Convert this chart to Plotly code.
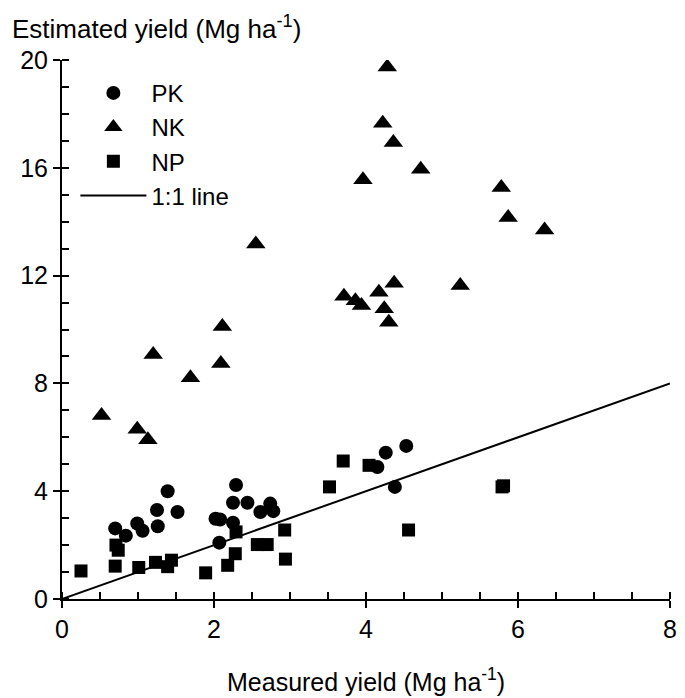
import plotly.graph_objects as go

# PK (circles)
pk_x = [0.70, 0.84, 0.99, 1.06, 1.25, 1.26, 1.39, 1.52, 2.02, 2.08, 2.07, 2.25, 2.25, 2.29, 2.44, 2.61, 2.74, 2.78, 4.15, 4.26, 4.38, 4.53]
pk_y = [2.62, 2.35, 2.80, 2.53, 3.30, 2.70, 4.00, 3.23, 2.98, 2.95, 2.09, 2.83, 3.57, 4.23, 3.57, 3.23, 3.54, 3.26, 4.90, 5.43, 4.16, 5.68]

# NK (triangles)
nk_x = [0.52, 0.99, 1.13, 1.20, 1.69, 2.09, 2.11, 2.55, 3.71, 3.86, 3.94, 3.96, 4.17, 4.22, 4.24, 4.28, 4.30, 4.36, 4.37, 4.72, 5.24, 5.78, 5.87, 6.35]
nk_y = [6.81, 6.30, 5.91, 9.07, 8.21, 8.74, 10.11, 13.17, 11.23, 11.07, 10.89, 15.56, 11.38, 17.65, 10.77, 19.74, 10.27, 16.94, 11.72, 15.95, 11.63, 15.27, 14.16, 13.69]

# NP (squares)
np_x = [0.25, 0.70, 0.71, 0.74, 1.01, 1.23, 1.39, 1.44, 1.89, 2.18, 2.28, 2.29, 2.57, 2.70, 2.93, 2.94, 3.52, 3.70, 4.04, 4.56, 5.79, 5.81]
np_y = [1.04, 1.22, 2.00, 1.81, 1.17, 1.36, 1.20, 1.44, 0.97, 1.25, 1.68, 2.49, 2.02, 2.02, 2.56, 1.48, 4.16, 5.12, 4.96, 2.56, 4.16, 4.20]

# 1:1 line
line_x = [0, 8]
line_y = [0, 8]

FONT = "Liberation Sans, Arial, sans-serif"
FS = 25

fig = go.Figure()
fig.add_trace(go.Scatter(x=pk_x, y=pk_y, mode="markers", name="PK",
                         marker=dict(symbol="circle", size=14, color="black")))
fig.add_trace(go.Scatter(x=nk_x, y=nk_y, mode="markers", name="NK",
                         marker=dict(symbol="triangle-up", size=17, color="black")))
fig.add_trace(go.Scatter(x=np_x, y=np_y, mode="markers", name="NP",
                         marker=dict(symbol="square", size=13, color="black")))
fig.add_trace(go.Scatter(x=line_x, y=line_y, mode="lines", name="1:1 line",
                         line=dict(color="black", width=2)))

fig.update_layout(
    width=685, height=698,
    margin=dict(l=62, r=8, t=60, b=99),
    paper_bgcolor="white", plot_bgcolor="white",
    font=dict(family=FONT, size=FS, color="black"),
    showlegend=True,
    legend=dict(x=0.022, y=0.98, xanchor="left", yanchor="top",
                bgcolor="rgba(0,0,0,0)", itemwidth=66,
                font=dict(family=FONT, size=24, color="black")),
    xaxis=dict(range=[0, 8], showgrid=False, zeroline=False,
               showline=True, linecolor="black", linewidth=2,
               tickmode="array", tickvals=[0, 2, 4, 6, 8],
               ticks="outside", ticklen=7, tickwidth=1.5, tickcolor="black",
               minor=dict(dtick=0.5, ticks="inside", ticklen=7, tickwidth=1.5, tickcolor="black"),
               tickfont=dict(family=FONT, size=FS, color="black")),
    yaxis=dict(range=[0, 20], showgrid=False, zeroline=False,
               showline=True, linecolor="black", linewidth=2,
               tickmode="array", tickvals=[0, 4, 8, 12, 16, 20],
               ticks="outside", ticklen=7, tickwidth=1.5, tickcolor="black",
               minor=dict(dtick=1, ticks="inside", ticklen=7, tickwidth=1.5, tickcolor="black"),
               tickfont=dict(family=FONT, size=FS, color="black")),
)

fig.add_annotation(text="Estimated yield (Mg ha<sup>-1</sup>)", xref="paper", yref="paper",
                   x=-0.085, y=1.06, xanchor="left", yanchor="middle", showarrow=False,
                   font=dict(family=FONT, size=26, color="black"))
fig.add_annotation(text="Measured yield (Mg ha<sup>-1</sup>)", xref="paper", yref="paper",
                   x=0.5, y=-0.15, xanchor="center", yanchor="middle", showarrow=False,
                   font=dict(family=FONT, size=FS, color="black"))

fig.write_html("out.html")
